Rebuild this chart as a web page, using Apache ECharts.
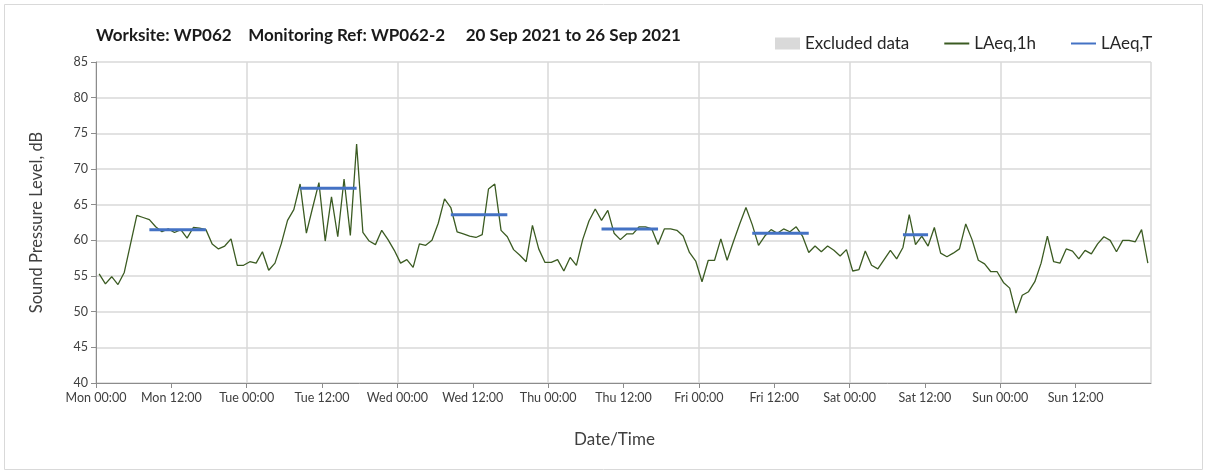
<!DOCTYPE html>
<html lang="en">
<head>
    <meta charset="UTF-8">
    <title>WP062 noise monitoring</title>
    <style>
        html, body { margin: 0; padding: 0; background: #fff; }
        #chart { width: 1208px; height: 474px; }
    </style>
</head>
<body>
<div id="chart"></div>

<script src="https://cdn.jsdelivr.net/npm/echarts@6/dist/echarts.min.js"></script>
<script>
    // hourly LAeq,1h per day, dB (hour 0..23)
    const mon = [55.3, 53.9, 54.9, 53.8, 55.5, 59.5, 63.5, 63.2, 62.9, 61.9, 61.2, 61.6, 61.1, 61.5, 60.3, 61.8, 61.7, 61.5, 59.5, 58.8, 59.2, 60.2, 56.5, 56.5];
    const tue = [57.0, 56.8, 58.4, 55.8, 56.8, 59.5, 62.8, 64.3, 67.9, 61.0, 64.6, 68.1, 59.9, 66.1, 60.5, 68.6, 60.7, 73.5, 61.1, 59.9, 59.4, 61.4, 60.1, 58.6];
    const wed = [56.8, 57.3, 56.2, 59.5, 59.3, 60.0, 62.4, 65.8, 64.6, 61.2, 60.9, 60.6, 60.4, 60.8, 67.2, 67.9, 61.4, 60.5, 58.7, 57.9, 57.0, 62.1, 58.8, 56.9];
    const thu = [56.9, 57.3, 55.7, 57.6, 56.5, 60.1, 62.7, 64.4, 62.8, 64.2, 61.0, 60.1, 60.9, 60.9, 61.9, 61.9, 61.6, 59.4, 61.6, 61.6, 61.4, 60.6, 58.3, 57.1];
    const fri = [54.2, 57.2, 57.2, 60.2, 57.2, 59.8, 62.3, 64.6, 62.2, 59.3, 60.6, 61.5, 61.0, 61.6, 61.2, 61.9, 60.6, 58.3, 59.2, 58.4, 59.2, 58.6, 57.8, 58.7];
    const sat = [55.7, 55.9, 58.5, 56.5, 56.0, 57.3, 58.6, 57.4, 59.0, 63.6, 59.4, 60.6, 59.2, 61.8, 58.2, 57.7, 58.2, 58.8, 62.3, 60.1, 57.2, 56.7, 55.6, 55.6];
    const sun = [54.1, 53.3, 49.8, 52.3, 52.8, 54.2, 56.8, 60.6, 57.0, 56.8, 58.8, 58.5, 57.4, 58.6, 58.1, 59.5, 60.5, 60.0, 58.4, 60.0, 60.0, 59.8, 61.5, 56.8];

    // LAeq,T over the working period of each day
    const periodDay = [0, 1, 2, 3, 4, 5];
    const periodFirstHour = [8, 8, 8, 8, 8, 8];
    const periodLastHour = [17, 17, 17, 17, 17, 12];
    const periodLevel = [61.5, 67.3, 63.6, 61.6, 61.0, 60.8];

    const dayNames = ['Mon', 'Tue', 'Wed', 'Thu', 'Fri', 'Sat', 'Sun'];
    const tickTimes = ['00:00', '12:00'];

    const fontFamily = 'Lato, "Open Sans", sans-serif';
    const textColor = '#404040';

    // points sit at the middle of their hour
    let hourly = [];
    [mon, tue, wed, thu, fri, sat, sun].forEach((day, d) => {
        day.forEach((v, h) => hourly.push([d * 24 + h + 0.5, v]));
    });

    let series = [
        {
            name: 'Excluded data',
            type: 'bar',
            data: [],
            itemStyle: { color: '#d9d9d9' }
        },
        {
            name: 'LAeq,1h',
            type: 'line',
            data: hourly,
            symbol: 'none',
            lineStyle: { color: '#3b5b22', width: 1.3 },
            itemStyle: { color: '#3b5b22' },
            z: 2
        }
    ];

    periodDay.forEach((d, i) => {
        series.push({
            name: 'LAeq,T',
            type: 'line',
            data: [
                [d * 24 + periodFirstHour[i] + 0.5, periodLevel[i]],
                [d * 24 + periodLastHour[i] + 0.5, periodLevel[i]]
            ],
            symbol: 'none',
            lineStyle: { color: '#4472c4', width: 3 },
            itemStyle: { color: '#4472c4' },
            z: 3
        });
    });

    let chart = echarts.init(document.getElementById('chart'));

    let option = {
        animation: false,
        textStyle: { fontFamily: fontFamily },
        graphic: [{
            type: 'rect',
            silent: true,
            shape: { x: 4.5, y: 4.5, width: 1198, height: 465 },
            style: { fill: 'none', stroke: '#d9d9d9', lineWidth: 1 }
        }],
        title: {
            text: 'Worksite: WP062    Monitoring Ref: WP062-2     20 Sep 2021 to 26 Sep 2021',
            left: 91,
            top: 22,
            textStyle: { fontFamily: fontFamily, fontSize: 17, fontWeight: 'bold', color: '#1a1a1a' }
        },
        legend: {
            left: 770,
            top: 30,
            itemWidth: 25,
            itemHeight: 12,
            itemGap: 34,
            textStyle: { fontFamily: fontFamily, fontSize: 17, color: '#262626' },
            data: [
                { name: 'Excluded data', icon: 'rect' },
                { name: 'LAeq,1h', itemStyle: { opacity: 0 } },
                { name: 'LAeq,T', itemStyle: { opacity: 0 } }
            ]
        },
        grid: { left: 96, right: 57, top: 62, height: 321 },
        xAxis: [
            {
                type: 'value',
                min: 0,
                max: 168,
                interval: 12,
                name: 'Date/Time',
                nameLocation: 'middle',
                nameGap: 48,
                nameTextStyle: { fontFamily: fontFamily, fontSize: 17, color: textColor, padding: [0, 18, 0, 0] },
                axisLine: { lineStyle: { color: '#8c8c8c' } },
                axisTick: { show: true, length: 5, lineStyle: { color: '#8c8c8c' } },
                splitLine: { show: false },
                axisLabel: {
                    margin: 8,
                    fontSize: 12.5,
                    color: textColor,
                    showMaxLabel: false,
                    formatter: v => v >= 168 ? '' : dayNames[Math.floor(v / 24)] + ' ' + tickTimes[(v % 24) / 12]
                }
            },
            {
                type: 'value',
                position: 'top',
                min: 0,
                max: 168,
                interval: 24,
                axisLine: { show: false },
                axisTick: { show: false },
                axisLabel: { show: false },
                splitLine: { show: true, lineStyle: { color: '#d9d9d9', width: 1.5 } }
            }
        ],
        yAxis: {
            type: 'value',
            min: 40,
            max: 85,
            interval: 5,
            name: 'Sound Pressure Level, dB',
            nameLocation: 'middle',
            nameGap: 51,
            nameTextStyle: { fontFamily: fontFamily, fontSize: 16.5, color: textColor },
            axisLine: { show: true, lineStyle: { color: '#8c8c8c' } },
            axisTick: { show: true, length: 5, lineStyle: { color: '#8c8c8c' } },
            splitLine: { lineStyle: { color: '#d9d9d9', width: 1.5 } },
            axisLabel: { margin: 8, fontSize: 12.5, color: textColor }
        },
        series: series
    };

    chart.setOption(option);
</script>
</body>
</html>
